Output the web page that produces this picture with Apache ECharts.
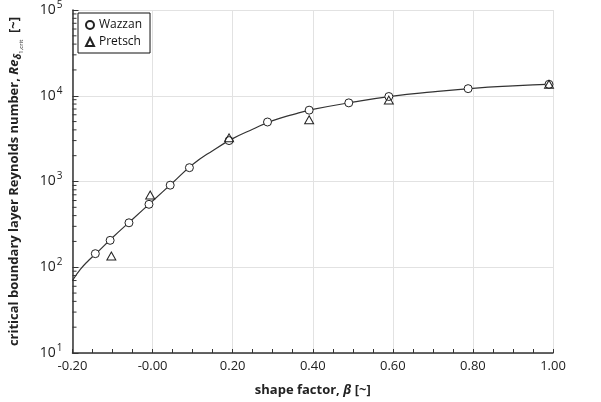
<!DOCTYPE html>
<html>
<head>
<meta charset="utf-8">
<script src="https://cdn.jsdelivr.net/npm/echarts@6/dist/echarts.min.js"></script>
<style>
html,body{margin:0;padding:0;background:#fff;}
#c{width:601px;height:402px;}
</style>
</head>
<body>
<div id="c"></div>
<script>
// ---- data ----
const wazzanBeta = [-0.143, -0.106, -0.059, -0.009, 0.044, 0.092, 0.191, 0.287, 0.391, 0.490, 0.590, 0.788, 0.990];
const wazzanRe   = [144, 206, 330, 542, 906, 1450, 3000, 4940, 6790, 8260, 9800, 12100, 13600];
const pretschBeta = [-0.103, -0.006, 0.191, 0.391, 0.590, 0.990];
const pretschRe   = [135, 695, 3230, 5250, 8900, 13600];
const curveBeta = [-0.2, -0.18, -0.16, -0.14, -0.1, -0.05, 0, 0.05, 0.1, 0.15, 0.2, 0.25, 0.3, 0.35, 0.4, 0.5, 0.6, 0.7, 0.8, 0.9, 1.0];
const curveRe   = [70, 95, 120, 146, 222, 363, 592, 966, 1575, 2290, 3160, 4070, 5130, 6030, 6920, 8410, 9890, 11090, 12220, 13030, 13650];
const xTickLabels = ['-0.20', '-0.00', '0.20', '0.40', '0.60', '0.80', '1.00'];
const yTickExponents = ['1', '2', '3', '4', '5'];
const yMinorTicks = [20,30,40,50,60,70,80,90,200,300,400,500,600,700,800,900,2000,3000,4000,5000,6000,7000,8000,9000,20000,30000,40000,50000,60000,70000,80000,90000];

const FONT = '"Open Sans", "Noto Sans", sans-serif';
const xMin = -0.2, xMax = 1.0, xInt = 0.2;

const chart = echarts.init(document.getElementById('c'), null, {renderer: 'canvas'});
const zip = (a, b) => a.map((v, i) => [v, b[i]]);

chart.setOption({
  animation: false,
  backgroundColor: '#fff',
  textStyle: {fontFamily: FONT},
  grid: {left: 71, right: 48, top: 5, bottom: 44, containLabel: false},
  legend: {
    data: ['Wazzan', 'Pretsch'],
    orient: 'vertical',
    left: 78, top: 13,
    padding: [6, 8, 5, 7],
    itemGap: 5,
    itemWidth: 8, itemHeight: 8,
    borderColor: '#111', borderWidth: 1,
    backgroundColor: '#fff',
    textStyle: {fontFamily: FONT, fontSize: 12, color: '#111'}
  },
  xAxis: {
    type: 'value', min: xMin, max: xMax, interval: xInt,
    name: '{b|shape factor, }{bi|β}{b| [~]}',
    nameLocation: 'middle', nameGap: 31,
    nameTextStyle: {rich: {
      b: {fontFamily: FONT, fontSize: 13, fontWeight: 'bold', color: '#222'},
      bi: {fontFamily: FONT, fontSize: 13, fontWeight: 'bold', fontStyle: 'italic', color: '#222'}
    }},
    axisLine: {show: true, onZero: false, lineStyle: {color: '#333', width: 1.5}},
    axisTick: {show: true, inside: true, length: 4, lineStyle: {color: '#333'}},
    minorTick: {show: true, splitNumber: 4, length: 4, lineStyle: {color: '#333'}},
    splitLine: {show: true, lineStyle: {color: '#e2e2e2', width: 1}},
    axisLabel: {
      fontFamily: FONT, fontSize: 13, color: '#222', margin: 7,
      formatter: (v) => xTickLabels[Math.round((v - xMin) / xInt)]
    }
  },
  yAxis: {
    type: 'log', logBase: 10, min: 10, max: 100000,
    name: '{b|critical boundary layer Reynolds number, }{bi|Re}{sub|δ}{ss|1,crit}{b|  [~]}',
    nameLocation: 'middle', nameGap: 48, nameRotate: 90,
    nameTextStyle: {rich: {
      b: {fontFamily: FONT, fontSize: 13, fontWeight: 'bold', color: '#222'},
      bi: {fontFamily: FONT, fontSize: 13, fontWeight: 'bold', fontStyle: 'italic', color: '#222'},
      sub: {fontFamily: FONT, fontSize: 10, fontWeight: 'bold', fontStyle: 'italic', color: '#222', padding: [8, 0, 0, 0]},
      ss: {fontFamily: FONT, fontSize: 6, color: '#222', padding: [14, 0, 0, 0]}
    }},
    axisLine: {show: true, onZero: false, lineStyle: {color: '#333', width: 1.5}},
    axisTick: {show: true, inside: true, length: 6, lineStyle: {color: '#333'}},
    splitLine: {show: true, lineStyle: {color: '#e2e2e2', width: 1}},
    axisLabel: {
      margin: 10,
      formatter: (v) => '{n|10}{s|' + yTickExponents[Math.round(Math.log10(v)) - 1] + '}',
      rich: {
        n: {fontFamily: FONT, fontSize: 14, color: '#222'},
        s: {fontFamily: FONT, fontSize: 10, color: '#222', padding: [0, 0, 10, 1]}
      }
    }
  },
  series: [
    {
      name: 'curve', type: 'line', data: zip(curveBeta, curveRe),
      smooth: 0.5, showSymbol: false, symbol: 'none',
      lineStyle: {color: '#333', width: 1.2}, z: 2, silent: true
    },
    {
      name: 'Wazzan', type: 'scatter', data: zip(wazzanBeta, wazzanRe),
      symbol: 'circle', symbolSize: 8,
      itemStyle: {color: '#fff', borderColor: '#222', borderWidth: 1, opacity: 1}, z: 4
    },
    {
      name: 'Pretsch', type: 'scatter', data: zip(pretschBeta, pretschRe),
      symbol: 'triangle', symbolSize: [9, 8],
      itemStyle: {color: 'rgba(255,255,255,0)', borderColor: '#222', borderWidth: 1, opacity: 1}, z: 5
    },
    {
      name: 'yminor', type: 'custom', silent: true, z: 6, clip: false,
      data: yMinorTicks.map(v => [xMin, v]),
      renderItem: (params, api) => {
        const p = api.coord([api.value(0), api.value(1)]);
        return {type: 'line', shape: {x1: p[0], y1: p[1], x2: p[0] + 4, y2: p[1]},
                style: {stroke: '#333', lineWidth: 1}};
      }
    }
  ]
});
</script>
</body>
</html>
